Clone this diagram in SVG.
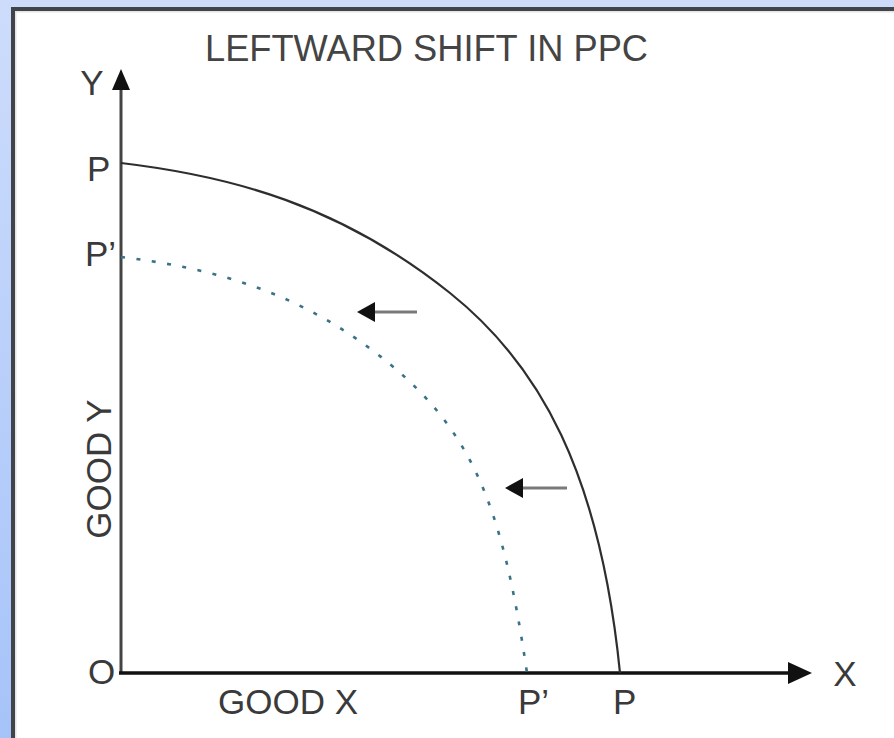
<svg xmlns="http://www.w3.org/2000/svg" width="894" height="738" viewBox="0 0 894 738">
  <defs>
    <linearGradient id="bg" x1="0" y1="0" x2="0" y2="1">
      <stop offset="0" stop-color="#cddcfb"/>
      <stop offset="1" stop-color="#a6c3f9"/>
    </linearGradient>
    <style>
      .lbl { font-family: "Liberation Sans", Arial, sans-serif; font-size: 35px; fill: #3a3a3a; }
      .title { font-family: "Liberation Sans", Arial, sans-serif; font-size: 37px; fill: #444; }
      .ppc { fill: none; stroke: #2e2e2e; stroke-width: 2.2; }
      .ppc2 { fill: none; stroke: #3a7385; stroke-width: 2.6; stroke-dasharray: 4 11.5; }
      .shaft { stroke: #7a7a7a; stroke-width: 3; }
      .head { fill: #111; }
    </style>
  </defs>

  <!-- frame -->
  <rect x="0" y="0" width="894" height="738" fill="url(#bg)"/>
  <rect x="15" y="11" width="879" height="727" fill="#ffffff"/>
  <rect x="11" y="7" width="883" height="4" fill="#414448"/>
  <rect x="11" y="7" width="4" height="731" fill="#414448"/>
  <rect x="15" y="11" width="879" height="1.5" fill="#e4e4e4"/>
  <rect x="15" y="11" width="1.5" height="727" fill="#e4e4e4"/>

  <g id="title">
    <text class="title" x="205" y="61" textLength="443" lengthAdjust="spacingAndGlyphs">LEFTWARD SHIFT IN PPC</text>
  </g>

  <g id="connectors">
    <!-- Y axis -->
    <line x1="121" y1="86" x2="121" y2="674" stroke="#444" stroke-width="3"/>
    <polygon points="121,69 112,90 130,90" fill="#111"/>
    <!-- X axis -->
    <line x1="119" y1="673" x2="792" y2="673" stroke="#111" stroke-width="3.5"/>
    <polygon points="812,673 788,662 788,684" fill="#111"/>
    <!-- shift arrows -->
    <g id="arrow-upper">
      <line class="shaft" x1="372" y1="312" x2="417" y2="312"/>
      <polygon class="head" points="357,312 375,302 375,322"/>
    </g>
    <g id="arrow-lower">
      <line class="shaft" x1="520" y1="488" x2="567" y2="488"/>
      <polygon class="head" points="505,488 523,478 523,498"/>
    </g>
  </g>

  <g id="ppc-original">
    <path class="ppc" d="M121,163 C231,176 340,205 450,293 C540,365 600,473 620,673"/>
  </g>
  <g id="ppc-shifted">
    <path class="ppc2" d="M121,257 C211,268 292,290 372,350 C472,425 502,503 527,673"/>
  </g>

  <g id="labels">
    <text class="lbl" x="92" y="95" text-anchor="middle">Y</text>
    <text class="lbl" x="87" y="181">P</text>
    <text class="lbl" x="85" y="266">P’</text>
    <text class="lbl" x="88" y="684">O</text>
    <text class="lbl" x="218" y="714">GOOD X</text>
    <text class="lbl" x="518" y="714">P’</text>
    <text class="lbl" x="613" y="714">P</text>
    <text class="lbl" x="845" y="686" text-anchor="middle">X</text>
    <text class="lbl" text-anchor="middle" transform="translate(111,469) rotate(-90)">GOOD Y</text>
  </g>
</svg>
